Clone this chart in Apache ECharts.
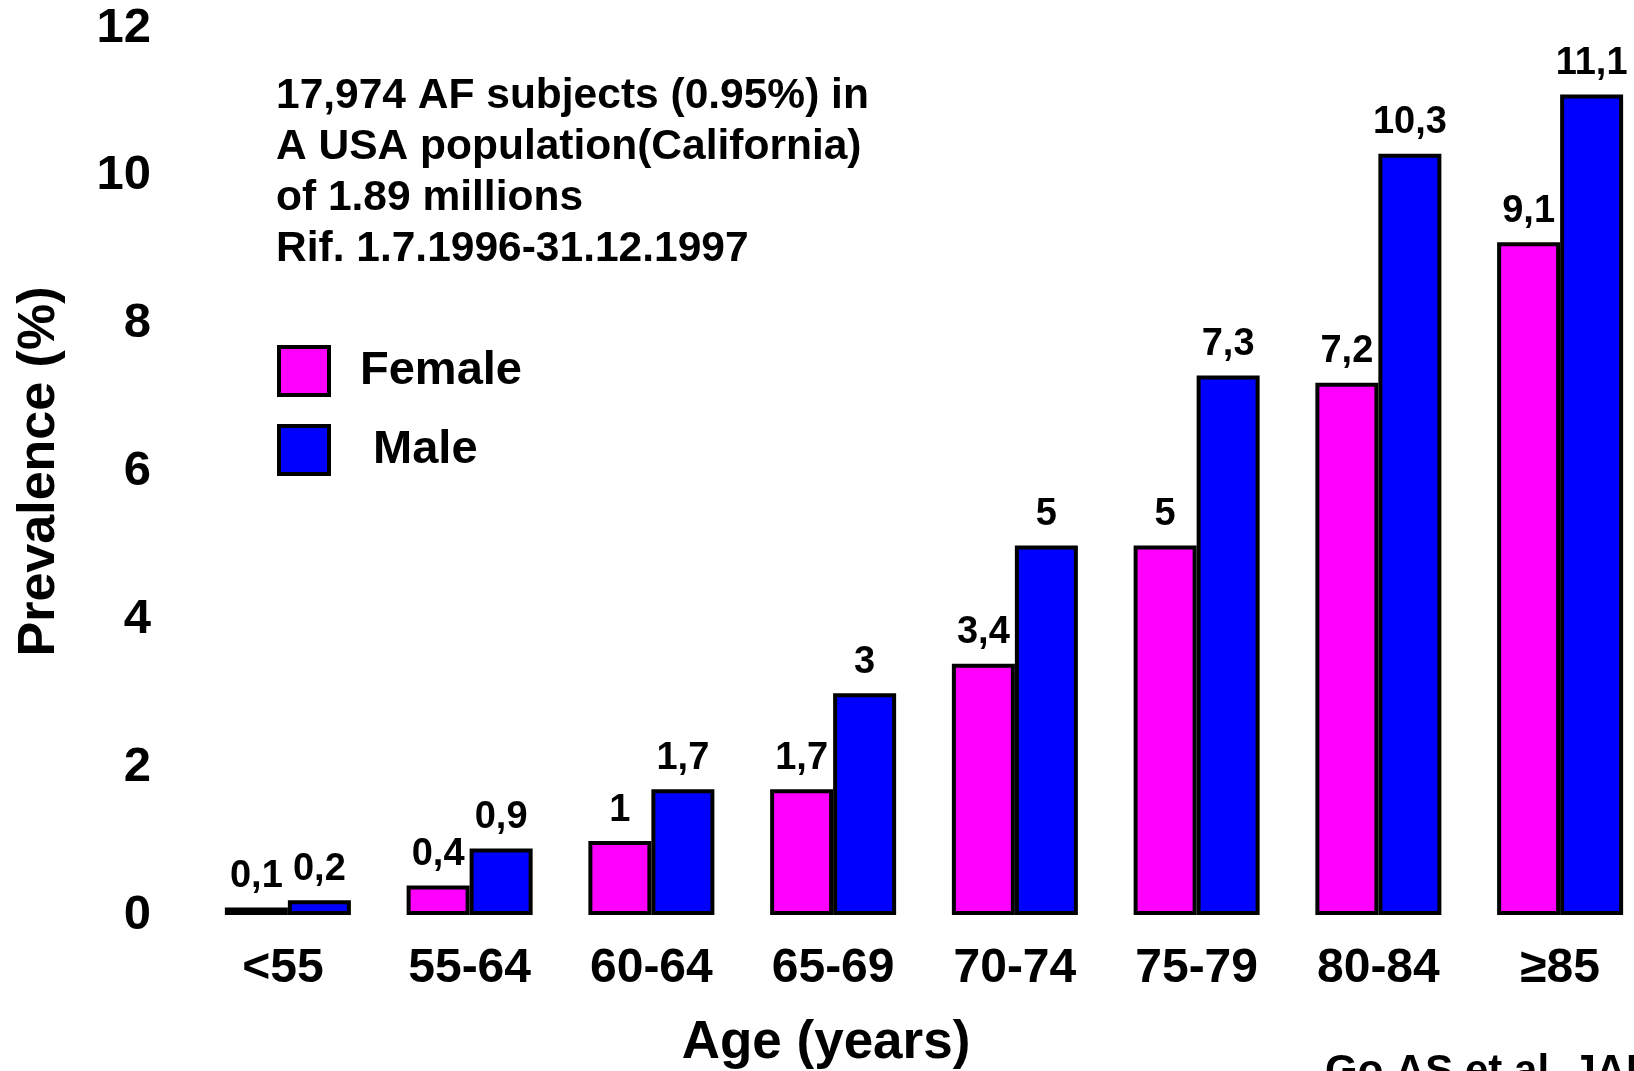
<!DOCTYPE html>
<html>
<head>
<meta charset="utf-8">
<script src="https://cdn.jsdelivr.net/npm/echarts@6/dist/echarts.min.js"></script>
<style>
html,body{margin:0;padding:0;background:#fff;}
#chart{width:1634px;height:1071px;}
</style>
</head>
<body>
<div id="chart"></div>
<script>
const categories = ['<55', '55-64', '60-64', '65-69', '70-74', '75-79', '80-84', '≥85'];
const female = [0.1, 0.4, 1, 1.7, 3.4, 5, 7.2, 9.1];
const male = [0.2, 0.9, 1.7, 3, 5, 7.3, 10.3, 11.1];
const seriesNames = ['Female', 'Male'];
const noteLines = ['17,974 AF subjects (0.95%) in', 'A USA population(California)', 'of 1.89 millions', 'Rif. 1.7.1996-31.12.1997'];
const citation = 'Go AS et al. JAMA 2001';

const FONT = '"Liberation Sans", Arial, Helvetica, sans-serif';
const chart = echarts.init(document.getElementById('chart'));
const fmt = p => String(p.value).replace('.', ',');
const labelCfg = {
  show: true, position: 'top', distance: 12, formatter: fmt,
  color: '#000', fontFamily: FONT, fontWeight: 'bold', fontSize: 38
};
const catData = categories.map((c, i) => i === 0 ? { value: c, textStyle: { padding: [0, 10, 0, 0] } } : c);
chart.setOption({
  backgroundColor: '#fff',
  animation: false,
  grid: { left: 197, top: 28, width: 1454, height: 887, outerBoundsMode: 'none', containLabel: false },
  legend: {
    orient: 'vertical', left: 272, top: 340,
    itemWidth: 50, itemHeight: 48, itemGap: 27,
    icon: 'rect',
    itemStyle: { borderColor: '#000', borderWidth: 4 },
    formatter: n => n === 'Male' ? ' ' + n : n,
    textStyle: { fontFamily: FONT, fontWeight: 'bold', fontSize: 47, color: '#000', padding: [16, 0, 0, 26] },
    data: seriesNames
  },
  xAxis: {
    type: 'category', data: catData,
    axisLine: { show: false }, axisTick: { show: false },
    axisLabel: { margin: 30, color: '#000', fontFamily: FONT, fontWeight: 'bold', fontSize: 48 },
    name: 'Age (years)', nameLocation: 'middle', nameGap: 102,
    nameTextStyle: { color: '#000', fontFamily: FONT, fontWeight: 'bold', fontSize: 53, padding: [0, 196, 0, 0] }
  },
  yAxis: {
    type: 'value', min: 0, max: 12, interval: 2,
    axisLine: { show: false }, axisTick: { show: false }, splitLine: { show: false },
    axisLabel: { margin: 46, color: '#000', fontFamily: FONT, fontWeight: 'bold', fontSize: 49 },
    name: 'Prevalence (%)', nameLocation: 'middle', nameGap: 131, nameRotate: 90,
    nameTextStyle: { color: '#000', fontFamily: FONT, fontWeight: 'bold', fontSize: 52 }
  },
  series: [
    { name: seriesNames[0], type: 'bar', data: female, barWidth: 63, barGap: '0%',
      itemStyle: { color: '#FF00FF', borderColor: '#000', borderWidth: 4 }, label: labelCfg },
    { name: seriesNames[1], type: 'bar', data: male, barWidth: 63, barGap: '0%',
      itemStyle: { color: '#0000FF', borderColor: '#000', borderWidth: 4 }, label: labelCfg }
  ],
  graphic: [
    { type: 'text', left: 276, top: 71,
      style: { text: noteLines.join('\n'), fill: '#000', font: 'bold 42.5px ' + FONT, lineHeight: 51 } },
    { type: 'text', left: 1325, top: 1051,
      style: { text: citation, fill: '#000', font: 'bold 42px ' + FONT } }
  ]
});
</script>
</body>
</html>
